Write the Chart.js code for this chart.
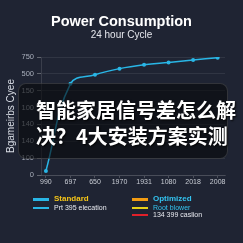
<!DOCTYPE html>
<html>
<head>
<meta charset="utf-8">
<script src="https://cdn.jsdelivr.net/npm/chart.js@4.4.1/dist/chart.umd.min.js"></script>
<style>
  html, body { margin: 0; padding: 0; background: #1f2433; }
  #wrap { position: relative; width: 243px; height: 243px; overflow: hidden; background: #1f2433; font-family: "Liberation Sans", Arial, sans-serif; }
  #chart { position: absolute; left: 0; top: 0; }
  .title { position: absolute; left: 0; width: 243px; text-align: center; color: #fff; }
  #t1 { top: 13px; font-size: 14.5px; font-weight: bold; }
  #t2 { top: 29px; font-size: 10px; color: #e4e6ec; }
  #overlay { position: absolute; left: 18px; top: 83px; width: 208px; height: 74px; border-radius: 8px;
             background: rgba(8, 9, 12, 0.62); border: 1px solid rgba(255,255,255,0.14); }
  #headline { position: absolute; left: 36px; top: 97px; width: 220px; color: #fff; font-family: "Noto Sans CJK SC", sans-serif;
              font-weight: bold; font-size: 20px; line-height: 26px; white-space: nowrap; text-shadow: 1px 1px 2px rgba(0,0,0,0.9); }
  .lg { position: absolute; height: 8px; line-height: 8px; white-space: nowrap; }
  .lg i { position: absolute; left: 0; top: 3px; width: 16px; height: 2.5px; }
  .lg span { position: absolute; left: 21px; top: 0; }
</style>
</head>
<body>
<div id="wrap">
  <canvas id="chart" width="243" height="243"></canvas>
  <div class="title" id="t1">Power Consumption</div>
  <div class="title" id="t2">24 hour Cycle</div>
  <div id="overlay"></div>
  <div id="headline"></div>
  <div id="legend"></div>
</div>
<script>
// данные графика
var xLabels = ['990', '697', '650', '1970', '1931', '1080', '2018', '2008'];
var standardValues = [24, 541, 595, 631, 654, 668, 682, 696];
var yTickLabels = ['0', '100', '140', '140', '100', '150', '500', '750'];
var yTitle = 'Bgameirbs Cyee';
var headlineLines = ['智能家居信号差怎么解', '决？4大安装方案实测'];

// легенда: колонка, строка, текст, цвет линии, цвет текста
var legendLabels = ['Standard', 'Prt 395 elecation', 'Optimized', 'Root blower', '134 399 caslion'];
var legendSwatch = ['#29b6e6', '#29b6e6', '#f39c12', '#e8d018', '#e0202a'];
var legendText = ['#f5c518', '#e8eaf0', '#33c3f0', '#33c3f0', '#e8eaf0'];
var legendCol = [0, 0, 1, 1, 1];
var legendRow = [0, 1, 0, 1, 2];

document.getElementById('headline').innerHTML = headlineLines.join('<br>');

var colX = [33, 132];
var rowY = [195, 203.5, 210.5];
var lgHtml = '';
for (var i = 0; i < legendLabels.length; i++) {
    var bold = legendRow[i] == 0;
    lgHtml += '<div class="lg" style="left:' + colX[legendCol[i]] + 'px;top:' + rowY[legendRow[i]] + 'px;">' +
        '<i style="background:' + legendSwatch[i] + '"></i>' +
        '<span style="color:' + legendText[i] + ';font-size:' + (bold ? 8 : 7) + 'px;font-weight:' + (bold ? 'bold' : 'normal') + '">' +
        legendLabels[i] + '</span></div>';
}
document.getElementById('legend').innerHTML = lgHtml;

var points = [];
for (i = 0; i < standardValues.length; i++) points.push({ x: i, y: standardValues[i] });

var ctx = document.getElementById('chart');
var PowerChart = new Chart(ctx, {
    type: 'line',
    data: {
        datasets: [{
            label: 'Standard',
            data: points,
            borderColor: '#29b6e6',
            backgroundColor: '#29b6e6',
            borderWidth: 1.5,
            pointRadius: 2,
            pointBorderWidth: 0,
            tension: 0.4,
            fill: false
        }]
    },
    options: {
        responsive: false,
        animation: false,
        devicePixelRatio: 1,
        layout: { padding: { left: 0, right: 18, top: 57, bottom: 54 } },
        plugins: { legend: { display: false }, tooltip: { enabled: false } },
        scales: {
            x: {
                type: 'linear',
                min: -0.2,
                max: 7.3,
                afterBuildTicks: function (scale) {
                    scale.ticks = xLabels.map(function (_, k) { return { value: k }; });
                },
                afterFit: function (scale) { scale.height = 14; },
                border: { color: 'rgba(255,255,255,0.12)' },
                grid: { drawOnChartArea: false, drawTicks: true, tickLength: 3, color: 'rgba(255,255,255,0.2)' },
                ticks: {
                    padding: 0,
                    maxRotation: 0,
                    autoSkip: false,
                    color: '#c8ccd4',
                    font: { size: 7, family: 'Liberation Sans' },
                    callback: function (v) { return xLabels[v]; }
                }
            },
            y: {
                min: 0,
                max: 700,
                afterBuildTicks: function (scale) {
                    scale.ticks = yTickLabels.map(function (_, k) { return { value: k * 100 }; });
                },
                afterFit: function (scale) { scale.width = 41; },
                border: { color: 'rgba(255,255,255,0.12)' },
                grid: { color: 'rgba(255,255,255,0.08)', tickLength: 4, tickColor: 'rgba(255,255,255,0.3)' },
                ticks: {
                    padding: 3,
                    color: '#a8aebb',
                    font: { size: 7.5, family: 'Liberation Sans' },
                    callback: function (v) { return yTickLabels[Math.round(v / 100)]; }
                },
                title: {
                    display: true,
                    text: yTitle,
                    color: '#d8dce4',
                    padding: { top: 5, bottom: 0 },
                    font: { size: 10, family: 'Liberation Sans' }
                }
            }
        }
    }
});
</script>
</body>
</html>
